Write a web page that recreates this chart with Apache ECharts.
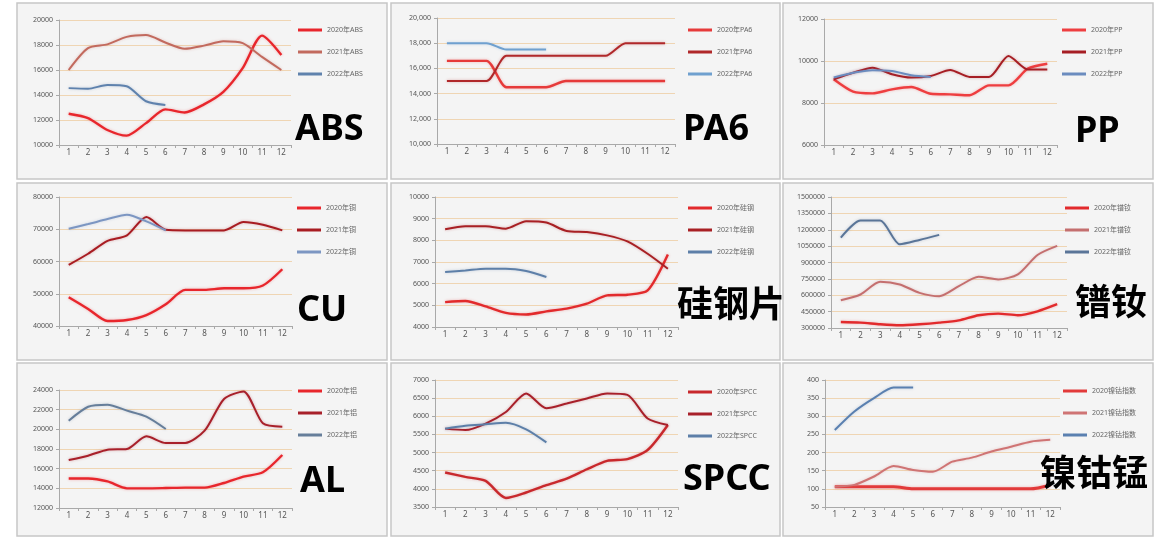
<!DOCTYPE html>
<html>
<head>
<meta charset="utf-8">
<title>原材料价格走势</title>
<script src="https://cdn.jsdelivr.net/npm/echarts@6/dist/echarts.min.js"></script>
<style>
  html, body { margin: 0; padding: 0; background: #fff; }
  #main { width: 1159px; height: 539px; }
</style>
</head>
<body>
<div id="main"></div>
<script>
// 月份
const months = ['1', '2', '3', '4', '5', '6', '7', '8', '9', '10', '11', '12']
const years = ['2020', '2021', '2022']

// ABS
const abs2020 = [12500, 12150, 11200, 10750, 11750, 12850, 12600, 13250, 14250, 16150, 18750, 17200]
const abs2021 = [16000, 17750, 18050, 18650, 18800, 18200, 17700, 17950, 18300, 18150, 17050, 16000]
const abs2022 = [14550, 14500, 14800, 14700, 13500, 13200]
// PA6
const pa2020 = [16600, 16600, 16600, 14500, 14500, 14500, 15000, 15000, 15000, 15000, 15000, 15000]
const pa2021 = [15000, 15000, 15000, 17000, 17000, 17000, 17000, 17000, 17000, 18000, 18000, 18000]
const pa2022 = [18000, 18000, 18000, 17500, 17500, 17500]
// PP
const pp2020 = [9130, 8540, 8460, 8650, 8760, 8440, 8410, 8370, 8840, 8840, 9640, 9870]
const pp2021 = [9130, 9440, 9680, 9370, 9210, 9290, 9570, 9240, 9240, 10240, 9600, 9600]
const pp2022 = [9210, 9440, 9560, 9520, 9320, 9240]
// 铜
const cu2020 = [48900, 45300, 41550, 41850, 43400, 46750, 51200, 51200, 51700, 51700, 52550, 57600]
const cu2021 = [58950, 62400, 66400, 68100, 73800, 69850, 69650, 69650, 69650, 72250, 71400, 69650]
const cu2022 = [70150, 71600, 73150, 74500, 72450, 69650]
// 硅钢
const si2020 = [5150, 5200, 4950, 4650, 4580, 4720, 4850, 5080, 5460, 5490, 5690, 7350]
const si2021 = [8510, 8650, 8650, 8540, 8880, 8820, 8430, 8380, 8230, 7950, 7380, 6690]
const si2022 = [6540, 6610, 6690, 6690, 6580, 6310]
// 镨钕
const nd2020 = [355000, 349000, 334000, 325000, 334000, 349000, 370000, 417000, 432000, 417000, 453000, 518000]
const nd2021 = [555000, 607000, 723000, 699000, 622000, 591000, 683000, 769000, 745000, 791000, 969000, 1052000]
const nd2022 = [1128000, 1285000, 1285000, 1067000, 1107000, 1153000]
// 铝
const al2020 = [15000, 15000, 14700, 14000, 14000, 14030, 14070, 14070, 14540, 15190, 15630, 17390]
const al2021 = [16880, 17320, 17930, 18000, 19290, 18610, 18610, 19860, 23090, 23860, 20610, 20270]
const al2022 = [20880, 22300, 22510, 21900, 21290, 20030]
// SPCC
const spcc2020 = [4450, 4330, 4220, 3750, 3900, 4100, 4280, 4540, 4770, 4820, 5070, 5760]
const spcc2021 = [5660, 5620, 5800, 6120, 6630, 6220, 6350, 6490, 6630, 6590, 5940, 5760]
const spcc2022 = [5660, 5740, 5780, 5820, 5640, 5280]
// 镍钴指数
const ncm2020 = [106, 106, 106, 106, 100, 100, 100, 100, 100, 100, 100, 110]
const ncm2021 = [106, 111, 134, 163, 152, 147, 175, 186, 203, 216, 230, 235]
const ncm2022 = [262, 313, 350, 379, 379]

// 每个小图: 名称, 图例后缀, 数据, y轴范围, 颜色
let panels = [
  { title: 'ABS', key: '年ABS', data: [abs2020, abs2021, abs2022], min: 10000, max: 20000, step: 2000,
    colors: ['#e8262c', '#c26a5e', '#5f82ad'] },
  { title: 'PA6', key: '年PA6', data: [pa2020, pa2021, pa2022], min: 10000, max: 20000, step: 2000, comma: true,
    colors: ['#e63a3a', '#b0282a', '#6fa0cf'] },
  { title: 'PP', key: '年PP', data: [pp2020, pp2021, pp2022], min: 6000, max: 12000, step: 2000,
    colors: ['#ee3e40', '#a61e24', '#6b8cbf'] },
  { title: 'CU', key: '年铜', data: [cu2020, cu2021, cu2022], min: 40000, max: 80000, step: 10000,
    colors: ['#e8262c', '#a81c22', '#7c96c2'] },
  { title: '硅钢片', key: '年硅钢', data: [si2020, si2021, si2022], min: 4000, max: 10000, step: 1000,
    colors: ['#e22a2c', '#a82024', '#5d7fa8'] },
  { title: '镨钕', key: '年镨钕', data: [nd2020, nd2021, nd2022], min: 300000, max: 1500000, step: 150000,
    colors: ['#e22a2c', '#c46f6f', '#5a7598'] },
  { title: 'AL', key: '年铝', data: [al2020, al2021, al2022], min: 12000, max: 24000, step: 2000,
    colors: ['#e8262c', '#a8202a', '#667e9a'] },
  { title: 'SPCC', key: '年SPCC', data: [spcc2020, spcc2021, spcc2022], min: 3500, max: 7000, step: 500,
    colors: ['#c8282c', '#a8202a', '#5d7fa8'] },
  { title: '镍钴锰', key: '镍钴指数', data: [ncm2020, ncm2021, ncm2022], min: 50, max: 400, step: 50, thick: true,
    colors: ['#e23a3a', '#cf7474', '#5a80b0'] }
]

// 布局 (px)
let boxes = [[17, 3, 370, 176], [391, 3, 389, 176], [783, 3, 370, 176],
             [17, 183, 370, 177], [391, 183, 389, 177], [783, 183, 370, 177],
             [17, 363, 370, 173], [391, 363, 389, 173], [783, 363, 370, 173]]
let grids = [[59, 20, 232, 125], [437, 18, 238, 126], [824, 19, 233, 126],
             [59, 197, 233, 129], [435, 197, 243, 130], [831, 197, 236, 131],
             [59, 390, 233, 118], [435, 380, 243, 127], [825, 380, 235, 127]]
let legendPos = [[298, 25], [688, 25], [1062, 25],
                 [297, 203], [688, 203], [1065, 203],
                 [298, 386], [688, 387], [1063, 386]]
let labelPos = [[295, 130], [683, 130], [1075, 132],
                [297, 311], [677, 307], [1075, 305],
                [300, 482], [683, 480], [1040, 476]]

const axisColor = '#a9a9a9'
const fontFamily = "'Noto Sans', 'Noto Sans CJK SC', sans-serif"

let option = {
  animation: false,
  textStyle: { fontFamily: fontFamily },
  grid: [], xAxis: [], yAxis: [], legend: [], series: [], graphic: []
}

panels.forEach((p, i) => {
  let g = grids[i]
  option.grid.push({ left: g[0], top: g[1], width: g[2], height: g[3] })
  option.xAxis.push({
    type: 'category', gridIndex: i, data: months, boundaryGap: true,
    axisLine: { lineStyle: { color: axisColor } },
    axisTick: { show: true, length: 3, lineStyle: { color: axisColor } },
    axisLabel: { fontSize: 8, color: '#555', margin: 4 }
  })
  option.yAxis.push({
    type: 'value', gridIndex: i, min: p.min, max: p.max, interval: p.step,
    axisLine: { show: true, lineStyle: { color: axisColor } },
    axisTick: { show: true, length: 3, lineStyle: { color: axisColor } },
    axisLabel: {
      fontSize: 7, color: '#555', margin: 6,
      formatter: (v) => p.comma ? v.toLocaleString('en-US') : String(v)
    },
    splitLine: { show: true, lineStyle: { color: '#efd5b3', width: 1 } }
  })
  let names = years.map(y => y + p.key)
  option.legend.push({
    data: names, orient: 'vertical', left: legendPos[i][0], top: legendPos[i][1],
    padding: 0, itemGap: 12, itemWidth: 24, itemHeight: 3, icon: 'rect',
    textStyle: { fontSize: 7, lineHeight: 10, color: '#666' }
  })
  p.data.forEach((d, k) => {
    let w = k == 0 ? (p.thick ? 3 : 2.4) : 2
    option.series.push({
      name: names[k], type: 'line', xAxisIndex: i, yAxisIndex: i,
      data: d, symbol: 'none', smooth: 0.25,
      color: p.colors[k],
      lineStyle: { width: w, color: p.colors[k], shadowBlur: 3, shadowColor: p.colors[k] + '55' }
    })
  })
  // 面板底色
  let b = boxes[i]
  option.graphic.push({
    type: 'rect', z: -10, shape: { x: b[0], y: b[1], width: b[2], height: b[3] },
    style: { fill: '#f4f4f4', stroke: '#c6c6c6', lineWidth: 1.5 }
  })
  // 大标题
  option.graphic.push({
    type: 'text', z: 100, x: labelPos[i][0], y: labelPos[i][1],
    style: {
      text: p.title, fill: '#000', font: 'bold 36px ' + fontFamily,
      verticalAlign: 'middle', align: 'left'
    }
  })
})

let chart = echarts.init(document.getElementById('main'), null, { renderer: 'canvas' })
chart.setOption(option)
</script>
</body>
</html>
